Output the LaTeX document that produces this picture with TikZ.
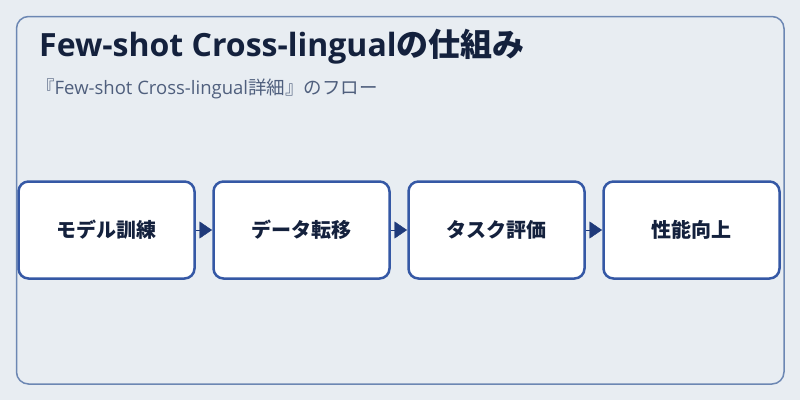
\documentclass[tikz,border=0pt]{standalone}
\usepackage{fontspec}
\setmainfont{Open Sans}
\newfontfamily\jpfont{Noto Sans CJK JP}
\usetikzlibrary{arrows.meta,positioning}
\definecolor{bgcol}{HTML}{E8EDF2}
\definecolor{framecol}{HTML}{6C87B3}
\definecolor{titlecol}{HTML}{14213D}
\definecolor{subcol}{HTML}{4F5F7D}
\definecolor{boxcol}{HTML}{3558A5}
\definecolor{arrcol}{HTML}{1F3A7A}
\tikzset{
  stepbox/.style={draw=boxcol, line width=2.5pt, fill=white, rounded corners=10pt,
    minimum width=176pt, minimum height=97pt, inner sep=0pt, outer sep=0pt,
    text=titlecol, font=\jpfont\fontsize{20}{24}\selectfont\bfseries},
  flowarrow/.style={arrcol, line width=0.4pt, -{Triangle[length=12.5pt,width=17pt]},
    shorten <=1.5pt, shorten >=1.5pt}
}
\begin{document}
\begin{tikzpicture}[x=1pt, y=-1pt, line join=round]
      \useasboundingbox [fill=bgcol] (0,0) rectangle (800,400);
      \draw [framecol, line width=1.5pt, rounded corners=12pt] (16.5,16.5) rectangle (784,384);
      \node [anchor=west, inner sep=0pt, text=titlecol, font=\fontsize{32}{36}\selectfont\bfseries] (title) at (39,47) {Few-shot Cross-lingual{\jpfont の仕組み}};
      \node [anchor=west, inner sep=0pt, text=subcol, font=\fontsize{18.5}{22}\selectfont] (subtitle) at (36,89) {{\jpfont 『}Few-shot Cross-lingual{\jpfont 詳細』のフロー}};
      % flow
      \node [stepbox] (train) at (106.5,230) {モデル訓練};
      \node [stepbox, right=19pt of train] (transfer) {データ転移};
      \node [stepbox, right=19pt of transfer] (eval) {タスク評価};
      \node [stepbox, right=19pt of eval] (gain) {性能向上};
      \draw [flowarrow] (train) -- (transfer);
      \draw [flowarrow] (transfer) -- (eval);
      \draw [flowarrow] (eval) -- (gain);
    \end{tikzpicture}
\end{document}
